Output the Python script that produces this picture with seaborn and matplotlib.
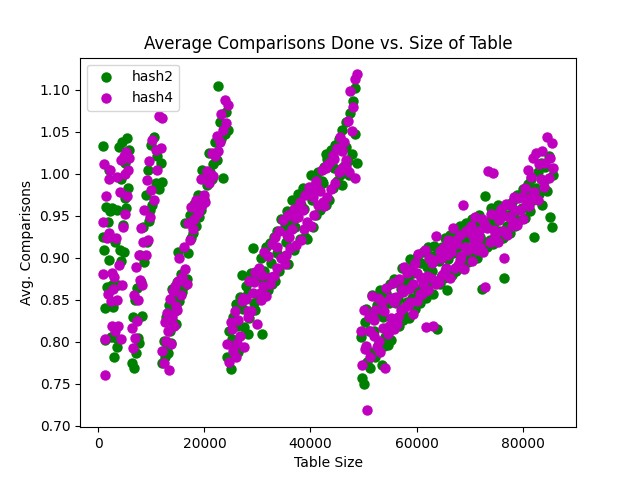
import pandas as pd
import matplotlib
matplotlib.use("Agg")
import matplotlib.pyplot as plt
import seaborn as sns

# table sizes (shared by both hash functions)
table_size = [
    # cluster 1
    800, 950, 1100, 1250, 1350, 1500, 1650, 1800, 1950, 2100, 2250, 2400, 2550, 2650,
    # cluster 2
    2800, 3000, 3150, 3300, 3450, 3600, 3750, 3900, 4050, 4200,
    4350, 4500, 4650, 4800, 4950, 5100, 5250, 5400, 5600, 5850,
    # cluster 3
    6300, 6500, 6700, 6900, 7100, 7300, 7500, 7700, 7900, 8100,
    8300, 8500, 8700, 8900, 9100, 9300, 9500, 9700, 9900, 10200,
    10500, 10800, 11100, 11500, 11800, 12000,
    # cluster 4
    12100, 12300, 12500, 12700, 12900, 13100, 13300, 13500, 13700, 13900,
    14100, 14300, 14500, 14700, 14900, 15100, 15300, 15500, 15800, 16100,
    16400, 16700,
    # cluster 5
    16900, 17200, 17500, 17800, 18100, 18400, 18700, 19000, 19300, 19600,
    19900, 20200, 20500, 20800, 21100, 21400, 21700, 22000, 22300, 22600,
    22900, 23200, 23500, 23800, 24100, 24400,
    # cluster 6
    24300, 24650, 25000, 25350, 25700, 26050, 26400, 26750, 27100, 27450,
    27800, 28150, 28500, 28850, 29200, 29550, 29900, 30250, 30600, 30950,
    31300, 31650, 32000, 32350, 32700, 33050, 33400, 33750, 34100, 34450,
    34800, 35150, 35500, 35850, 36200, 36550, 36900, 37250, 37600, 37950,
    38300, 38650, 39000, 39350, 39700, 40050, 40400, 40750, 41100, 41450,
    41800, 42150, 42500, 42850, 43200, 43550, 43900, 44250, 44600, 44950,
    45300, 45650, 46000, 46350, 46700, 47050, 47400, 47750, 48100, 48450,
    48800,
    45900, 47200, 48300, 31000, 36000, 41000, 43000,
    25200, 26200, 27300, 28300, 29400, 30400, 32500, 33600, 35300, 37000,
    38800, 40200, 42300, 44400, 46600,
    # cluster 7
    49500, 49800, 50100, 50400, 50700, 51000, 51300, 51600, 51900, 52200,
    52500, 52800, 53100, 53400, 53700, 54000, 54300, 54600, 54900, 55200,
    55500, 55800,
    56100, 56400, 56700, 57000, 57300, 57600, 57900, 58200, 58500, 58800,
    59100, 59400, 59700, 60000, 60300, 60600, 60900, 61200, 61500, 61800,
    62100, 62400, 62700, 63000, 63300, 63600, 63900,
    64200, 64500, 64800, 65100, 65400, 65700, 66000, 66300, 66600, 66900,
    67200, 67500, 67800, 68100, 68400, 68700, 69000, 69300, 69600, 69900,
    70200, 70500, 70800, 71100, 71400, 71700,
    72000, 72300, 72600, 72900, 73200, 73500, 73800, 74100, 74400, 74700,
    75000, 75300, 75600, 75900, 76200, 76500, 76800, 77100, 77400, 77700,
    78000, 78300, 78600, 78900, 79200, 79500,
    79800, 80100, 80400, 80700, 81000, 81300, 81600, 81900, 82200, 82500,
    82800, 83100, 83400, 83700, 84000, 84300, 84600, 84900, 85200, 85500,
    85800,
    50250, 51150, 52050, 52950, 53850, 54750, 55650, 56550, 57450, 58350,
    59250, 60150, 61050, 61950, 62850, 63750, 64650, 65550, 66450, 67350,
    68250, 69150, 70050, 70950, 71850, 72750, 74550, 76350, 78150, 81150,
]

hash2_avg = [
    0.925, 1.033, 0.909, 0.840, 0.802, 0.960, 0.865, 0.942, 1.004, 0.897, 0.955, 0.805, 0.959, 0.867,
    0.841, 0.782, 0.918, 0.804, 0.957, 0.793, 0.867, 1.031, 0.909, 0.993,
    0.896, 1.037, 0.939, 0.906, 1.012, 0.971, 0.959, 1.042, 0.983, 1.028,
    0.775, 0.829, 0.769, 0.849, 0.786, 0.864, 0.804, 0.798, 0.903, 0.871,
    0.830, 0.936, 0.895, 0.975, 0.918, 1.004, 0.944, 0.957, 1.034, 0.962,
    1.044, 0.989, 1.021, 0.981, 1.012, 0.990,
    0.774, 0.801, 0.781, 0.829, 0.793, 0.786, 0.843, 0.812, 0.798, 0.862,
    0.823, 0.853, 0.836, 0.821, 0.871, 0.907, 0.848, 0.880, 0.859, 0.866,
    0.941, 0.874,
    0.905, 0.951, 0.923, 0.929, 0.964, 0.938, 0.975, 0.948, 0.957, 1.004,
    0.970, 0.997, 0.986, 1.024, 1.002, 0.993, 1.011, 1.038, 1.016, 1.104,
    1.061, 1.041, 0.995, 1.047, 1.073, 1.052,
    0.781, 0.812, 0.767, 0.829, 0.798, 0.845, 0.788, 0.853, 0.879, 0.817,
    0.866, 0.809, 0.828, 0.881, 0.911, 0.837, 0.874, 0.852, 0.899, 0.809,
    0.884, 0.913, 0.861, 0.917, 0.869, 0.925, 0.872, 0.932, 0.884, 0.946,
    0.901, 0.938, 0.955, 0.892, 0.947, 0.968, 0.909, 0.959, 0.976, 0.922,
    0.963, 0.983, 0.924, 0.922, 0.974, 0.998, 0.936, 0.985, 0.951, 1.002,
    0.957, 0.991, 1.008, 0.962, 1.017, 0.969, 1.028, 0.983, 1.034, 0.991,
    1.041, 0.998, 1.052, 1.009, 1.061, 1.015, 1.072, 1.023, 1.086, 1.102,
    1.013,
    0.986, 0.998, 1.047, 0.872, 0.944, 0.995, 1.023,
    0.803, 0.819, 0.839, 0.858, 0.846, 0.879, 0.893, 0.905, 0.919, 0.936,
    0.958, 0.969, 0.989, 1.006, 1.031,
    0.805, 0.756, 0.749, 0.839, 0.776, 0.812, 0.787, 0.855, 0.833, 0.781,
    0.844, 0.796, 0.861, 0.772, 0.829, 0.805, 0.858, 0.796, 0.869, 0.802,
    0.852, 0.874,
    0.846, 0.871, 0.818, 0.863, 0.887, 0.832, 0.872, 0.847, 0.828, 0.898,
    0.852, 0.894, 0.839, 0.901, 0.859, 0.846, 0.893, 0.907, 0.861, 0.852,
    0.912, 0.869, 0.902, 0.857, 0.914, 0.871, 0.815,
    0.896, 0.869, 0.912, 0.876, 0.923, 0.861, 0.898, 0.927, 0.879, 0.905,
    0.931, 0.884, 0.912, 0.937, 0.892, 0.919, 0.898, 0.941, 0.895, 0.923,
    0.901, 0.946, 0.908, 0.928, 0.899, 0.951,
    0.925, 0.863, 0.937, 0.973, 0.912, 0.942, 0.921, 0.959, 0.916, 0.945,
    0.926, 0.963, 0.931, 0.958, 0.923, 0.876, 0.951, 0.937, 0.962, 0.929,
    0.966, 0.949, 0.938, 0.974, 0.943, 0.975,
    0.959, 0.981, 0.947, 0.976, 0.988, 0.955, 0.994, 0.968, 0.925, 0.983,
    1.002, 0.976, 1.013, 0.963, 0.991, 1.008, 0.979, 1.021, 0.948, 0.936,
    0.998,
    0.823, 0.768, 0.812, 0.838, 0.795, 0.846, 0.823, 0.851, 0.826, 0.874,
    0.881, 0.863, 0.876, 0.889, 0.884, 0.903, 0.877, 0.905, 0.919, 0.888,
    0.915, 0.927, 0.904, 0.924, 0.939, 0.919, 0.941, 0.931, 0.957, 0.969,
]

hash4_avg = [
    0.942, 0.880, 1.011, 0.803, 0.760, 0.973, 0.923, 0.857, 0.993, 0.929, 1.004, 0.848, 0.819, 0.881,
    0.863, 0.877, 0.813, 0.923, 0.849, 0.996, 0.819, 0.891, 0.978, 0.803,
    1.016, 0.867, 0.936, 1.021, 0.952, 0.999, 1.026, 0.973, 1.004, 1.019,
    0.816, 0.792, 0.855, 0.804, 0.889, 0.825, 0.849, 0.903, 0.873, 0.935,
    0.867, 0.918, 0.957, 0.903, 0.992, 0.921, 1.015, 0.948, 0.980, 1.040,
    0.968, 1.028, 1.004, 1.068, 1.030, 1.066,
    0.789, 0.775, 0.823, 0.801, 0.834, 0.812, 0.766, 0.851, 0.797, 0.829,
    0.860, 0.818, 0.866, 0.842, 0.838, 0.872, 0.899, 0.855, 0.877, 0.913,
    0.886, 0.868,
    0.941, 0.921, 0.960, 0.934, 0.946, 0.969, 0.953, 0.957, 0.993, 0.962,
    0.975, 0.966, 1.003, 0.989, 0.999, 1.025, 0.997, 1.021, 1.045, 1.027,
    1.038, 1.071, 1.052, 1.088, 1.060, 1.082,
    0.797, 0.776, 0.823, 0.789, 0.836, 0.781, 0.826, 0.807, 0.848, 0.793,
    0.851, 0.829, 0.872, 0.836, 0.858, 0.883, 0.821, 0.887, 0.849, 0.879,
    0.907, 0.854, 0.902, 0.869, 0.916, 0.878, 0.924, 0.888, 0.931, 0.899,
    0.945, 0.892, 0.927, 0.951, 0.911, 0.934, 0.958, 0.915, 0.948, 0.966,
    0.921, 0.957, 0.975, 0.942, 0.984, 0.938, 0.972, 0.951, 0.991, 0.963,
    0.979, 1.004, 0.961, 1.009, 0.972, 1.013, 0.981, 1.022, 0.989, 1.030,
    1.002, 1.044, 1.006, 1.037, 1.016, 1.063, 1.098, 1.051, 1.079, 1.112,
    1.118,
    1.027, 1.002, 0.995, 0.866, 0.925, 0.985, 1.007,
    0.815, 0.798, 0.852, 0.836, 0.871, 0.858, 0.877, 0.912, 0.903, 0.947,
    0.934, 0.976, 0.966, 1.017, 1.008,
    0.813, 0.772, 0.838, 0.795, 0.718, 0.829, 0.781, 0.854, 0.806, 0.837,
    0.793, 0.852, 0.788, 0.847, 0.816, 0.768, 0.864, 0.809, 0.852, 0.828,
    0.870, 0.815,
    0.853, 0.821, 0.875, 0.838, 0.862, 0.889, 0.841, 0.881, 0.862, 0.847,
    0.886, 0.833, 0.893, 0.848, 0.904, 0.857, 0.876, 0.868, 0.909, 0.817,
    0.861, 0.900, 0.876, 0.818, 0.897, 0.926, 0.872,
    0.871, 0.908, 0.879, 0.912, 0.884, 0.903, 0.921, 0.876, 0.917, 0.935,
    0.888, 0.916, 0.891, 0.927, 0.902, 0.963, 0.886, 0.932, 0.909, 0.911,
    0.937, 0.896, 0.922, 0.948, 0.909, 0.932,
    0.913, 0.946, 0.907, 0.865, 0.935, 1.003, 0.918, 0.952, 1.001, 0.927,
    0.951, 0.919, 0.945, 0.958, 0.932, 0.899, 0.964, 0.927, 0.948, 0.963,
    0.938, 0.972, 0.956, 0.939, 0.971, 0.957,
    0.972, 0.946, 0.983, 0.962, 1.004, 0.971, 0.996, 1.019, 0.978, 1.025,
    0.969, 1.011, 0.993, 1.027, 0.984, 1.012, 1.043, 0.995, 1.018, 1.036,
    1.006,
    0.791, 0.812, 0.826, 0.801, 0.836, 0.819, 0.847, 0.829, 0.859, 0.843,
    0.868, 0.881, 0.857, 0.878, 0.894, 0.868, 0.899, 0.887, 0.906, 0.921,
    0.897, 0.912, 0.929, 0.918, 0.924, 0.941, 0.933, 0.949, 0.944, 0.961,
]

print(len(table_size), len(hash2_avg), len(hash4_avg))

df = pd.DataFrame({"size": table_size, "hash2": hash2_avg, "hash4": hash4_avg})

fig, ax = plt.subplots(figsize=(6.4, 4.8), dpi=100)

sns.scatterplot(data=df, x="size", y="hash2", color="g", s=36,
                edgecolor="g", linewidth=1.5, label="hash2", ax=ax)
sns.scatterplot(data=df, x="size", y="hash4", color="m", s=36,
                edgecolor="m", linewidth=1.5, label="hash4", ax=ax)

ax.set_title("Average Comparisons Done vs. Size of Table")
ax.set_xlabel("Table Size")
ax.set_ylabel("Avg. Comparisons")
ax.legend(loc="upper left")

plt.savefig("out.png", dpi=100)
